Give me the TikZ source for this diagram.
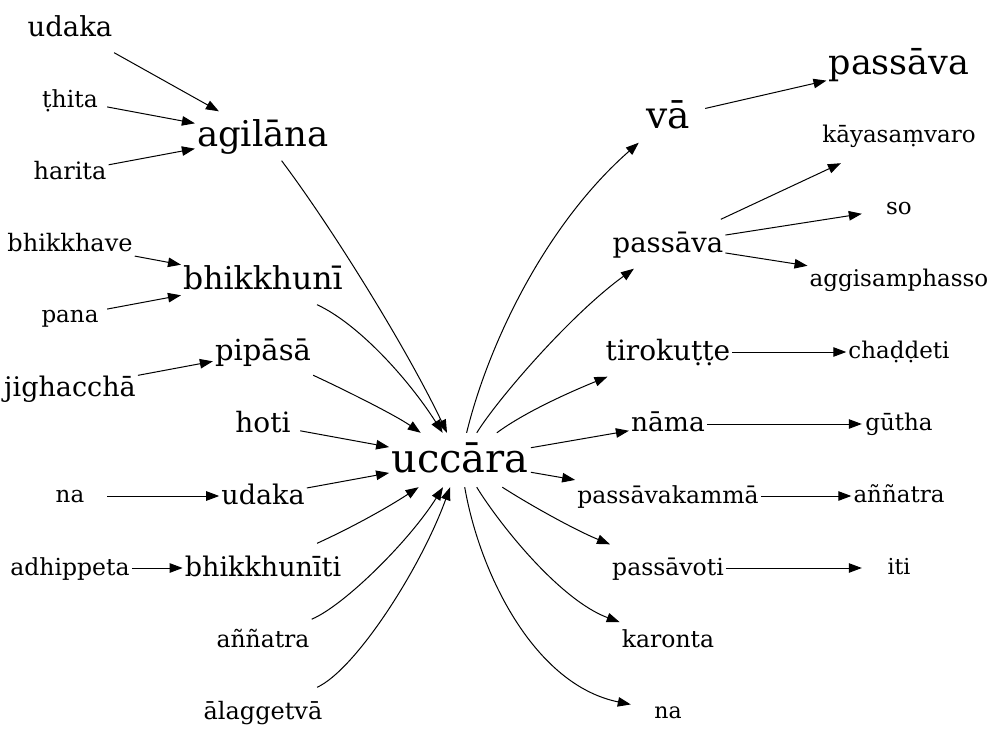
\documentclass[tikz,border=0pt]{standalone}
\usepackage{fontspec}
\setmainfont{DejaVu Serif}
\usetikzlibrary{arrows.meta}
\newcommand\wstrut{\rule[-0.3em]{0pt}{1.2em}}
\tikzset{
  base/.style={inner xsep=2pt, inner ysep=3pt, minimum width=74pt, minimum height=49pt, execute at begin node=\wstrut},
  w/.style={font=\fontsize{#1}{#1}\selectfont},
  e/.style={-{Triangle[length=13pt,width=9.5pt]}, line width=1pt}
}
\begin{document}
\begin{tikzpicture}[x=1pt,y=-1pt]
\useasboundingbox (0,0) rectangle (996,743);
% left column
\node[base,w=27.5] (udakaA) at (70,28) {udaka};
\node[base,w=23.5] (thita) at (70,100) {ṭhita};
\node[base,w=24] (harita) at (70,172) {harita};
\node[base,w=24] (bhikkhave) at (70,244) {bhikkhave};
\node[base,w=23] (pana) at (70,316) {pana};
\node[base,w=27] (jighaccha) at (70,388) {jighacchā};
\node[base,w=23] (naA) at (70,496) {na};
\node[base,w=23.5] (adhippeta) at (70,568) {adhippeta};
% middle-left column
\node[base,w=35.5] (agilana) at (263,136) {agilāna};
\node[base,w=31.5] (bhikkhuni) at (263,280) {bhikkhunī};
\node[base,w=29] (pipasa) at (263,352) {pipāsā};
\node[base,w=28] (hoti) at (263,424) {hoti};
\node[base,w=27] (udakaB) at (263,496) {udaka};
\node[base,w=27] (bhikkhuniti) at (263,568) {bhikkhunīti};
\node[base,w=23.5] (annatraA) at (263,640) {aññatra};
\node[base,w=24] (alaggetva) at (263,712) {ālaggetvā};
% centre
\node[base,w=40] (uccara) at (460,460) {uccāra};
% middle-right column
\node[base,w=37.5] (va) at (668,117) {vā};
\node[base,w=27.5] (passavaB) at (668,244) {passāva};
\node[base,w=28] (tiro) at (668,352) {tirokuṭṭe};
\node[base,w=26.5] (nama) at (668,424) {nāma};
\node[base,w=23.5] (pkamma) at (668,496) {passāvakammā};
\node[base,w=23.5] (pvoti) at (668,568) {passāvoti};
\node[base,w=23.5] (karonta) at (668,640) {karonta};
\node[base,w=22] (naB) at (668,712) {na};
% right column
\node[base,w=35] (passavaA) at (899,64) {passāva};
\node[base,w=23,minimum height=54pt] (kaya) at (899,136) {kāyasaṃvaro};
\node[base,w=23] (so) at (899,208) {so};
\node[base,w=23] (aggi) at (899,280) {aggisamphasso};
\node[base,w=23] (chaddeti) at (899,352) {chaḍḍeti};
\node[base,w=23] (gutha) at (899,424) {gūtha};
\node[base,w=23] (annatraB) at (899,496) {aññatra};
\node[base,w=22] (iti) at (899,568) {iti};
% edges left
\draw[e] (udakaA) -- (agilana);
\draw[e] (thita) -- (agilana);
\draw[e] (harita) -- (agilana);
\draw[e] (bhikkhave) -- (bhikkhuni);
\draw[e] (pana) -- (bhikkhuni);
\draw[e] (jighaccha) -- (pipasa);
\draw[e] (naA) -- (udakaB);
\draw[e] (adhippeta) -- (bhikkhuniti);
% edges into uccara
\draw[e] (agilana) .. controls (330,225) and (405,345) .. (uccara);
\draw[e] (bhikkhuni) .. controls (357,323) and (407,377) .. (uccara);
\draw[e] (pipasa) .. controls (345,390) and (395,415) .. (uccara);
\draw[e] (hoti) -- (uccara);
\draw[e] (udakaB) -- (uccara);
\draw[e] (bhikkhuniti) .. controls (355,526) and (390,506) .. (uccara);
\draw[e] (annatraA) .. controls (345,605) and (410,540) .. (uccara);
\draw[e] (alaggetva) .. controls (355,670) and (420,570) .. (uccara);
% edges out of uccara
\draw[e] (uccara) .. controls (488,345) and (545,225) .. (va);
\draw[e] (uccara) .. controls (497,400) and (570,315) .. (passavaB);
\draw[e] (uccara) .. controls (525,412) and (570,392) .. (tiro);
\draw[e] (uccara) -- (nama);
\draw[e] (uccara) -- (pkamma);
\draw[e] (uccara) .. controls (530,505) and (575,530) .. (pvoti);
\draw[e] (uccara) .. controls (500,525) and (560,600) .. (karonta);
\draw[e] (uccara) .. controls (480,575) and (535,685) .. (naB);
% edges right
\draw[e] (va) -- (passavaA);
\draw[e] (passavaB) -- (kaya);
\draw[e] (passavaB) -- (so);
\draw[e] (passavaB) -- (aggi);
\draw[e] (tiro) -- (chaddeti);
\draw[e] (nama) -- (gutha);
\draw[e] (pkamma) -- (annatraB);
\draw[e] (pvoti) -- (iti);
\end{tikzpicture}
\end{document}
